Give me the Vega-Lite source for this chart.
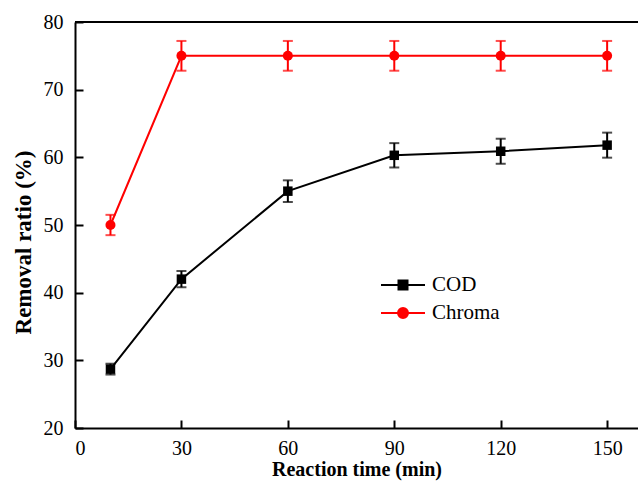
{
  "$schema": "https://vega.github.io/schema/vega-lite/v6.json",
  "width": 563,
  "height": 406,
  "autosize": {"type": "none"},
  "padding": {"left": 75, "top": 22, "right": 0, "bottom": 53},
  "background": "white",
  "config": {
    "view": {"stroke": null},
    "font": "Liberation Serif",
    "axis": {
      "domainColor": "black",
      "domainWidth": 2,
      "tickColor": "black",
      "tickWidth": 2,
      "tickSize": -8,
      "grid": false,
      "labelFont": "Liberation Serif",
      "labelFontSize": 20,
      "labelColor": "black",
      "titleFont": "Liberation Serif",
      "titleFontSize": 20,
      "titleFontWeight": "bold",
      "titleColor": "black"
    },
    "legend": {
      "labelFont": "Liberation Serif",
      "labelFontSize": 21,
      "labelColor": "black"
    }
  },
  "data": {
    "values": [
      {"series": "COD", "time": 10, "value": 28.7, "err": 0.8},
      {"series": "COD", "time": 30, "value": 42.0, "err": 1.2},
      {"series": "COD", "time": 60, "value": 55.0, "err": 1.6},
      {"series": "COD", "time": 90, "value": 60.3, "err": 1.8},
      {"series": "COD", "time": 120, "value": 60.9, "err": 1.85},
      {"series": "COD", "time": 150, "value": 61.8, "err": 1.85},
      {"series": "Chroma", "time": 10, "value": 50.0, "err": 1.5},
      {"series": "Chroma", "time": 30, "value": 75.0, "err": 2.2},
      {"series": "Chroma", "time": 60, "value": 75.0, "err": 2.2},
      {"series": "Chroma", "time": 90, "value": 75.0, "err": 2.2},
      {"series": "Chroma", "time": 120, "value": 75.0, "err": 2.2},
      {"series": "Chroma", "time": 150, "value": 75.0, "err": 2.2}
    ]
  },
  "encoding": {
    "x": {
      "field": "time", "type": "quantitative",
      "scale": {"domain": [0, 158.7], "nice": false, "zero": false},
      "axis": {"values": [0, 30, 60, 90, 120, 150], "title": "Reaction time (min)", "labelPadding": 18, "titlePadding": 1}
    },
    "y": {
      "field": "value", "type": "quantitative",
      "scale": {"domain": [20, 80], "nice": false, "zero": false},
      "axis": {"values": [20, 30, 40, 50, 60, 70, 80], "title": "Removal ratio (%)", "titleFontSize": 23, "titleY": 220, "labelPadding": 20, "titlePadding": 8}
    },
    "color": {
      "field": "series", "type": "nominal",
      "scale": {"domain": ["COD", "Chroma"], "range": ["black", "#ff0000"]},
      "legend": {
        "title": null,
        "orient": "none",
        "legendX": 317,
        "legendY": 252,
        "symbolSize": 400,
        "symbolType": "M-2.2,0H2.2",
        "rowPadding": 7,
        "labelOffset": 18,
        "encode": {
          "symbols": {
            "update": {
              "shape": {"signal": "datum.value === 'COD' ? 'M-2.2,0H2.2M-0.45,-0.45H0.45V0.45H-0.45Z' : 'M-2.2,0H2.2M-0.5,0A0.5,0.5 0 1,0 0.5,0A0.5,0.5 0 1,0 -0.5,0Z'"},
              "size": {"value": 400},
              "stroke": {"signal": "datum.value === 'COD' ? 'black' : '#ff0000'"},
              "fill": {"signal": "datum.value === 'COD' ? 'black' : '#ff0000'"},
              "strokeWidth": {"value": 2},
              "opacity": {"value": 1},
              "fillOpacity": {"value": 1},
              "strokeOpacity": {"value": 1}
            }
          }
        }
      }
    }
  },
  "layer": [
    {
      "mark": {"type": "rule", "strokeWidth": 2, "color": "black"},
      "encoding": {"y": {"datum": 80}, "x": null, "color": null}
    },
    {
      "mark": {"type": "line", "strokeWidth": 2},
      "encoding": {"detail": {"field": "series"}}
    },
    {
      "mark": {"type": "errorbar", "ticks": {"size": 10, "thickness": 2}, "rule": {"strokeWidth": 2}},
      "encoding": {
        "y": {"field": "value", "type": "quantitative"},
        "yError": {"field": "err"}
      }
    },
    {
      "transform": [{"filter": "datum.series === 'COD'"}],
      "mark": {"type": "point", "filled": true, "opacity": 1, "shape": "square", "size": 90}
    },
    {
      "transform": [{"filter": "datum.series === 'Chroma'"}],
      "mark": {"type": "point", "filled": true, "opacity": 1, "shape": "circle", "size": 100}
    }
  ]
}
